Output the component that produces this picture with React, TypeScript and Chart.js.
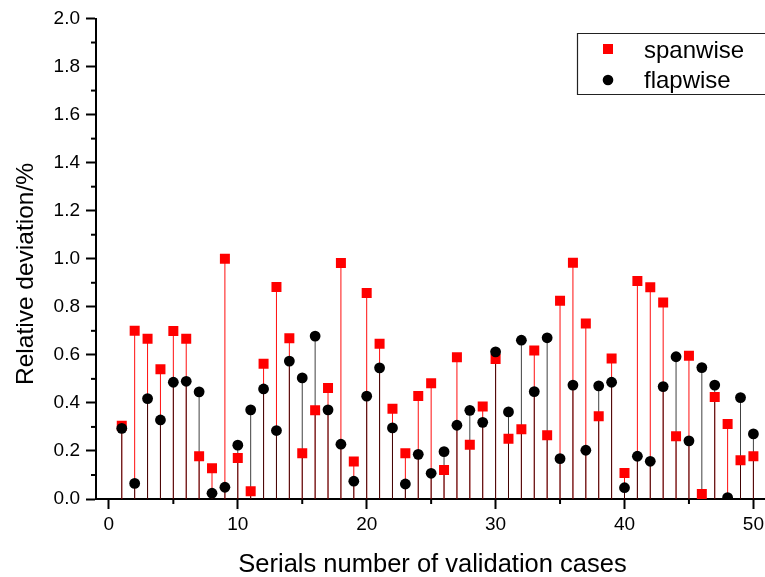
import React, { useEffect, useRef } from "react";
import { Chart, registerables } from "chart.js";

Chart.register(...registerables);

// ---- data ----
const cases = [
  1, 2, 3, 4, 5, 6, 7, 8, 9, 10, 11, 12, 13, 14, 15, 16, 17, 18, 19, 20, 21, 22, 23, 24, 25,
  26, 27, 28, 29, 30, 31, 32, 33, 34, 35, 36, 37, 38, 39, 40, 41, 42, 43, 44, 45, 46, 47, 48, 49, 50,
];
const spanwise = [
  0.305, 0.7, 0.667, 0.54, 0.699, 0.667, 0.178, 0.128, 1.0, 0.171,
  0.032, 0.5625, 0.882, 0.669, 0.19, 0.369, 0.4625, 0.982, 0.156, 0.857,
  0.646, 0.376, 0.19, 0.429, 0.482, 0.121, 0.59, 0.226, 0.385, 0.583,
  0.251, 0.29, 0.618, 0.265, 0.825, 0.983, 0.731, 0.344, 0.585, 0.108,
  0.907, 0.881, 0.818, 0.261, 0.596, 0.021, 0.425, 0.3125, 0.161, 0.178,
];
const flapwise = [
  0.294, 0.065, 0.418, 0.329, 0.486, 0.49, 0.446, 0.024, 0.049, 0.224,
  0.371, 0.458, 0.285, 0.574, 0.504, 0.678, 0.371, 0.228, 0.074, 0.428,
  0.546, 0.296, 0.0625, 0.186, 0.107, 0.197, 0.307, 0.369, 0.319, 0.6125,
  0.3625, 0.661, 0.447, 0.671, 0.168, 0.474, 0.203, 0.471, 0.486, 0.047,
  0.178, 0.157, 0.468, 0.592, 0.242, 0.547, 0.474, 0.006, 0.422, 0.271,
];
const seriesNames = ["spanwise", "flapwise"];
const xMinorTicks = [5, 15, 25, 35, 45];
const yMinorTicks = [0.1, 0.3, 0.5, 0.7, 0.9, 1.1, 1.3, 1.5, 1.7, 1.9];
const xTitle = "Serials number of validation cases";
const yTitle = "Relative deviation/%";

const FONT = "Arial, 'Liberation Sans', Helvetica, sans-serif";

export default function App() {
  const ref = useRef<HTMLCanvasElement>(null);

  useEffect(() => {
    if (!ref.current) return;

    const stems = {
      id: "stems",
      beforeDatasetsDraw(chart: any) {
        const { ctx } = chart;
        const y0 = chart.scales.y.getPixelForValue(0);
        const colors = ["rgba(255,0,0,0.95)", "rgba(0,0,0,0.75)"];
        ctx.save();
        ctx.lineWidth = 1;
        [0, 1].forEach((di) => {
          const meta = chart.getDatasetMeta(di);
          ctx.strokeStyle = colors[di];
          meta.data.forEach((el: any) => {
            ctx.beginPath();
            ctx.moveTo(el.x, y0);
            ctx.lineTo(el.x, el.y);
            ctx.stroke();
          });
        });
        ctx.restore();
      },
    };

    const decorations = {
      id: "decorations",
      afterDraw(chart: any) {
        const { ctx, chartArea } = chart;
        const xs = chart.scales.x;
        const ys = chart.scales.y;
        ctx.save();
        // minor ticks
        ctx.strokeStyle = "#000";
        ctx.lineWidth = 2;
        yMinorTicks.forEach((v) => {
          const py = ys.getPixelForValue(v);
          ctx.beginPath();
          ctx.moveTo(chartArea.left - 5, py);
          ctx.lineTo(chartArea.left, py);
          ctx.stroke();
        });
        xMinorTicks.forEach((v) => {
          const px = xs.getPixelForValue(v);
          ctx.beginPath();
          ctx.moveTo(px, chartArea.bottom);
          ctx.lineTo(px, chartArea.bottom + 5);
          ctx.stroke();
        });
        // axis titles
        ctx.fillStyle = "#000";
        ctx.font = `25.5px ${FONT}`;
        ctx.textAlign = "center";
        ctx.textBaseline = "alphabetic";
        ctx.fillText(xTitle, 432.5, 572);
        ctx.save();
        ctx.translate(33, 274);
        ctx.rotate(-Math.PI / 2);
        ctx.font = `24.5px ${FONT}`;
        ctx.fillText(yTitle, 0, 0);
        ctx.restore();
        // legend
        ctx.lineWidth = 1.2;
        ctx.strokeStyle = "#222";
        ctx.beginPath();
        ctx.moveTo(800, 33.5);
        ctx.lineTo(577.5, 33.5);
        ctx.lineTo(577.5, 94.5);
        ctx.lineTo(800, 94.5);
        ctx.stroke();
        ctx.fillStyle = "#ff0000";
        ctx.fillRect(603, 44, 10, 10);
        ctx.fillStyle = "#000";
        ctx.beginPath();
        ctx.arc(608, 80, 5.3, 0, Math.PI * 2);
        ctx.fill();
        ctx.font = `24px ${FONT}`;
        ctx.textAlign = "left";
        ctx.fillText(seriesNames[0], 644, 58);
        ctx.fillText(seriesNames[1], 644, 88);
        ctx.restore();
      },
    };

    const chart = new Chart(ref.current, {
      type: "scatter",
      data: {
        datasets: [
          {
            label: seriesNames[0],
            data: cases.map((c, i) => ({ x: c, y: spanwise[i] })),
            pointStyle: "rect",
            pointRadius: 7.07,
            pointBackgroundColor: "#ff0000",
            pointBorderWidth: 0,
            borderWidth: 0,
            order: 2,
          },
          {
            label: seriesNames[1],
            data: cases.map((c, i) => ({ x: c, y: flapwise[i] })),
            pointStyle: "circle",
            pointRadius: 5.4,
            pointBackgroundColor: "#000000",
            pointBorderWidth: 0,
            borderWidth: 0,
            order: 1,
          },
        ],
      },
      options: {
        responsive: false,
        animation: false,
        events: [],
        layout: { autoPadding: false, padding: { top: 18.5, left: 0, right: 0, bottom: 0 } },
        plugins: {
          legend: { display: false },
          tooltip: { enabled: false },
          title: { display: false },
        },
        scales: {
          x: {
            type: "linear",
            min: -1,
            max: 50.9,
            grid: {
              drawOnChartArea: false,
              drawTicks: true,
              tickLength: 10,
              tickWidth: 2,
              tickColor: "#000",
            },
            border: { display: true, color: "#000", width: 2 },
            ticks: {
              stepSize: 10,
              includeBounds: false,
              padding: 4,
              color: "#000",
              font: { family: FONT, size: 19 },
              maxRotation: 0,
              callback: (v: any) => String(v),
            },
            afterFit: (scale: any) => {
              scale.height = 78;
              scale.paddingLeft = 0;
              scale.paddingRight = 0;
            },
          },
          y: {
            type: "linear",
            min: 0,
            max: 2.0,
            grid: {
              drawOnChartArea: false,
              drawTicks: true,
              tickLength: 10,
              tickWidth: 2,
              tickColor: "#000",
            },
            border: { display: true, color: "#000", width: 2 },
            ticks: {
              stepSize: 0.2,
              padding: 6,
              color: "#000",
              font: { family: FONT, size: 19 },
              callback: (v: any) => Number(v).toFixed(1),
            },
            afterFit: (scale: any) => {
              scale.width = 96;
              scale.paddingTop = 0;
              scale.paddingBottom = 0;
            },
          },
        },
      },
      plugins: [stems, decorations],
    });

    return () => chart.destroy();
  }, []);

  return (
    <div style={{ position: "fixed", left: 0, top: 0, width: 765, height: 577, background: "#fff" }}>
      <canvas ref={ref} width={765} height={577} style={{ display: "block" }} />
    </div>
  );
}
